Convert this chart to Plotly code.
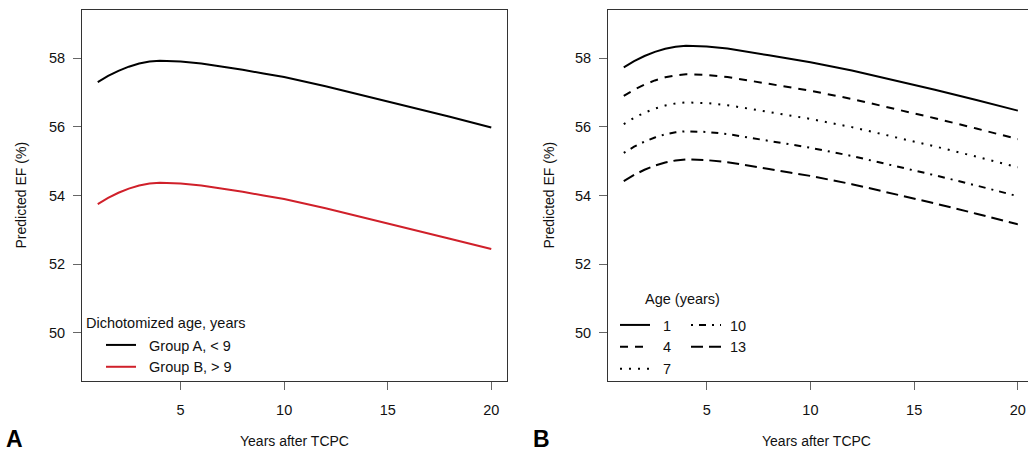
import plotly.graph_objects as go

# ---------------- data ----------------
years = [1, 1.5, 2, 2.5, 3, 3.5, 4, 4.5, 5, 6, 7, 8, 9, 10, 12, 14, 16, 18, 20]

# Panel A: dichotomized age
group_a = [57.30, 57.48, 57.63, 57.75, 57.84, 57.90, 57.92, 57.92, 57.90, 57.84,
           57.76, 57.66, 57.55, 57.45, 57.18, 56.89, 56.59, 56.29, 55.98]
group_b = [53.75, 53.93, 54.08, 54.20, 54.29, 54.35, 54.37, 54.37, 54.35, 54.29,
           54.21, 54.11, 54.00, 53.90, 53.63, 53.34, 53.04, 52.74, 52.44]

# Panel B: age (years)
age_1 = [57.73, 57.91, 58.06, 58.18, 58.27, 58.33, 58.36, 58.36, 58.34, 58.28,
         58.19, 58.08, 57.98, 57.88, 57.64, 57.37, 57.08, 56.78, 56.47]
age_4 = [56.90, 57.08, 57.23, 57.35, 57.44, 57.50, 57.53, 57.53, 57.51, 57.45,
         57.36, 57.25, 57.15, 57.05, 56.81, 56.54, 56.25, 55.95, 55.64]
age_7 = [56.08, 56.26, 56.41, 56.53, 56.62, 56.68, 56.71, 56.71, 56.69, 56.63,
         56.54, 56.43, 56.33, 56.23, 55.99, 55.72, 55.43, 55.13, 54.82]
age_10 = [55.24, 55.42, 55.57, 55.69, 55.78, 55.84, 55.87, 55.87, 55.85, 55.79,
          55.70, 55.59, 55.49, 55.39, 55.15, 54.88, 54.59, 54.29, 53.98]
age_13 = [54.42, 54.60, 54.75, 54.87, 54.96, 55.02, 55.05, 55.05, 55.03, 54.97,
          54.88, 54.77, 54.67, 54.57, 54.33, 54.06, 53.77, 53.47, 53.16]

x_ticks = [5, 10, 15, 20]
y_ticks = [50, 52, 54, 56, 58]

# ---------------- figure ----------------
W, H = 1028, 453
FONT = "Liberation Sans, Arial, Helvetica, sans-serif"
fig = go.Figure()

def px_x(p):
    return p / W

def px_y(p):
    return (H - p) / H

fig.add_trace(go.Scatter(x=years, y=group_a, mode="lines", name="  Group A, < 9",
                         line=dict(color="#000000", width=2),
                         xaxis="x", yaxis="y", legend="legend"))
fig.add_trace(go.Scatter(x=years, y=group_b, mode="lines", name="  Group B, > 9",
                         line=dict(color="#D0202A", width=2),
                         xaxis="x", yaxis="y", legend="legend"))

b_series = [
    ("  1", age_1, "solid", "legend2"),
    ("  4", age_4, "8px,7px", "legend2"),
    ("  7", age_7, "2px,7px", "legend2"),
    (" 10", age_10, "2px,6px,7px,6px", "legend3"),
    (" 13", age_13, "12px,6px", "legend3"),
]
for name, vals, dash, lg in b_series:
    fig.add_trace(go.Scatter(x=years, y=vals, mode="lines", name=name,
                             line=dict(color="#000000", width=2, dash=dash),
                             xaxis="x2", yaxis="y2", legend=lg))

y_dom = [px_y(381), px_y(10)]
axis_common = dict(showgrid=False, zeroline=False, showline=True, linecolor="#333333",
                   linewidth=1, ticks="outside", ticklen=8, tickwidth=1, tickcolor="#666666",
                   tickfont=dict(family=FONT, size=14.5, color="#111111"))

fig.update_layout(
    width=W, height=H,
    margin=dict(l=0, r=0, t=0, b=0),
    paper_bgcolor="white", plot_bgcolor="white",
    font=dict(family=FONT, size=14.5, color="#111111"),
    xaxis=dict(domain=[px_x(82), px_x(507)], range=[0.24, 20.76], tickvals=x_ticks,
               mirror=True, anchor="y", ticklabelstandoff=8, **axis_common),
    yaxis=dict(domain=y_dom, range=[48.6, 59.4], tickvals=y_ticks,
               mirror=True, anchor="x", ticklabelstandoff=5, **axis_common),
    xaxis2=dict(domain=[px_x(608), 1.0], range=[0.24, 20.49], tickvals=x_ticks,
                mirror=True, anchor="y2", ticklabelstandoff=8, **axis_common),
    yaxis2=dict(domain=y_dom, range=[48.6, 59.4], tickvals=y_ticks,
                mirror=False, anchor="x2", ticklabelstandoff=5, **axis_common),
    legend=dict(x=px_x(101), y=px_y(329), xanchor="left", yanchor="top",
                bgcolor="rgba(0,0,0,0)", borderwidth=0,
                font=dict(family=FONT, size=14.5, color="#111111")),
    legend2=dict(x=px_x(615), y=px_y(309), xanchor="left", yanchor="top",
                 bgcolor="rgba(0,0,0,0)", borderwidth=0,
                 font=dict(family=FONT, size=14.5, color="#111111")),
    legend3=dict(x=px_x(686), y=px_y(309), xanchor="left", yanchor="top",
                 bgcolor="rgba(0,0,0,0)", borderwidth=0,
                 font=dict(family=FONT, size=14.5, color="#111111")),
    showlegend=True,
)

ann = []
# axis titles
for cx in (20, 548):
    ann.append(dict(text="Predicted EF (%)", x=px_x(cx), y=px_y(195.5), xref="paper", yref="paper",
                    textangle=-90, showarrow=False, xanchor="center", yanchor="middle",
                    font=dict(family=FONT, size=14, color="#111111")))
for cx in (294, 816):
    ann.append(dict(text="Years after TCPC", x=px_x(cx), y=px_y(441), xref="paper", yref="paper",
                    showarrow=False, xanchor="center", yanchor="middle",
                    font=dict(family=FONT, size=14, color="#111111")))
# panel letters
for cx, lab in ((4, "A"), (531, "B")):
    ann.append(dict(text="<b>%s</b>" % lab, x=px_x(cx), y=px_y(439), xref="paper", yref="paper",
                    showarrow=False, xanchor="left", yanchor="middle",
                    font=dict(family=FONT, size=23, color="#000000")))
# legend titles
ann.append(dict(text="Dichotomized age, years", x=px_x(84), y=px_y(323), xref="paper", yref="paper",
                showarrow=False, xanchor="left", yanchor="middle",
                font=dict(family=FONT, size=14.5, color="#111111")))
ann.append(dict(text="Age (years)", x=px_x(643), y=px_y(299), xref="paper", yref="paper",
                showarrow=False, xanchor="left", yanchor="middle",
                font=dict(family=FONT, size=14.5, color="#111111")))
fig.update_layout(annotations=ann)

fig.write_html(
    "out.html",
    config={"displayModeBar": False},
    post_script=(
        "document.documentElement.style.margin='0';"
        "document.documentElement.style.overflow='hidden';"
        "document.body.style.margin='0';"
        "document.body.style.padding='0';"
        "document.body.style.overflow='hidden';"
    ),
)
